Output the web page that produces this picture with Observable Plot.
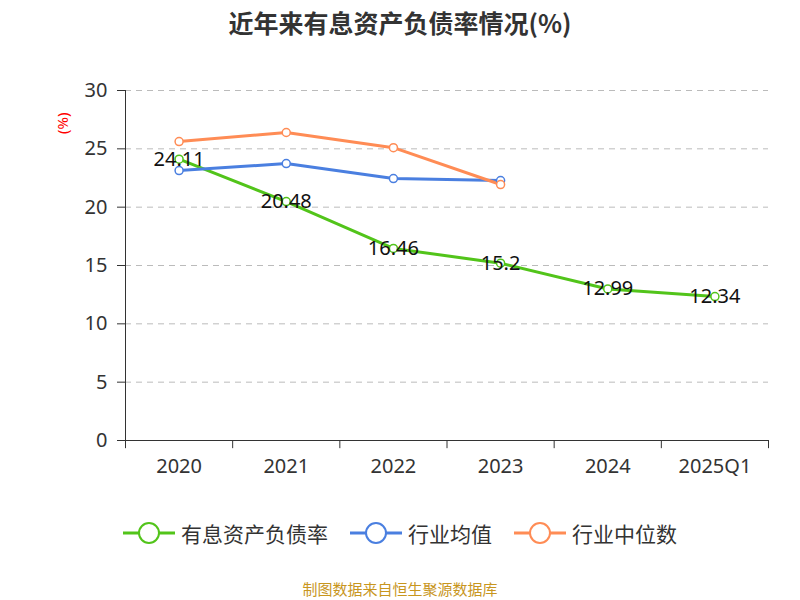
<!DOCTYPE html>
<html><head><meta charset="utf-8">
<script src="https://cdn.jsdelivr.net/npm/d3@7"></script>
<script src="https://cdn.jsdelivr.net/npm/@observablehq/plot@0.6"></script>
<style>
body{margin:0;width:800px;height:600px;position:relative;font-family:"Noto Sans CJK SC","Noto Sans",sans-serif;background:#fff}
#title{position:absolute;top:4px;left:0;width:800px;text-align:center;font-size:25px;font-weight:bold;color:#333}
#chart{position:absolute;top:0;left:0}
#legend{position:absolute;top:518px;left:0;width:800px;display:flex;justify-content:center;gap:22px;font-size:21px;color:#333}
.li{display:flex;align-items:center;gap:6px}
#cap{position:absolute;top:578px;left:0;width:800px;text-align:center;font-size:15px;color:#c8961e}
</style></head><body>
<div id="chart"></div>
<div id="title">近年来有息资产负债率情况(%)</div>
<div id="legend"></div>
<div id="cap">制图数据来自恒生聚源数据库</div>
<script>
const categories = ["2020","2021","2022","2023","2024","2025Q1"];
const debtRatio = [24.11,20.48,16.46,15.2,12.99,12.34];
const industryAvg = [23.14,23.74,22.45,22.28];
const industryMedian = [25.62,26.4,25.1,21.94];
const yTicks = [0,5,10,15,20,25,30];
const seriesNames = ["有息资产负债率","行业均值","行业中位数"];
const colors = ["#52c41a","#4a7fe0","#ff8c55"];

const rows = [];
debtRatio.forEach((v,i)=>rows.push({s:seriesNames[0],i,v}));
industryAvg.forEach((v,i)=>rows.push({s:seriesNames[1],i,v}));
industryMedian.forEach((v,i)=>rows.push({s:seriesNames[2],i,v}));
const main = rows.filter(r=>r.s===seriesNames[0]);
const bounds = d3.range(categories.length+1).map(k=>k-0.5);

const plot = Plot.plot({
  width:800,height:600,
  marginTop:90,marginBottom:160,marginLeft:125,marginRight:32,
  x:{type:"linear",domain:[-0.5,categories.length-0.5],axis:null},
  y:{type:"linear",domain:[0,30],axis:null},
  color:{domain:seriesNames,range:colors},
  style:{fontFamily:"Noto Sans, sans-serif"},
  marks:[
    Plot.ruleY(yTicks.filter(t=>t>0),{stroke:"#bbb",strokeDasharray:"6,5"}),
    Plot.ruleX([-0.5],{y1:0,y2:30,stroke:"#333"}),
    Plot.ruleY(yTicks,{x1:-0.5,x2:-0.5,dx:0,stroke:"#333",insetLeft:-8}),
    Plot.text(yTicks,{x:-0.5,y:d=>d,text:d=>String(d),dx:-18,textAnchor:"end",fontSize:20,fill:"#333"}),
    Plot.ruleY([0],{stroke:"#333"}),
    Plot.ruleX(bounds,{y1:0,y2:-0.7,stroke:"#333"}),
    Plot.text(categories,{x:(d,i)=>i,y:0,text:d=>d,dy:26,fontSize:20,fill:"#333"}),
    Plot.line(rows,{x:"i",y:"v",z:"s",stroke:"s",strokeWidth:3}),
    Plot.dot(rows,{x:"i",y:"v",stroke:"s",fill:"white",r:4,strokeWidth:1.5}),
    Plot.text(main,{x:"i",y:"v",text:d=>String(d.v),fontSize:20,fill:"#111"}),
    Plot.text(["(%)"],{x:-0.5,y:27.2,dx:-62,text:d=>d,rotate:-90,fill:"red",fontSize:15})
  ]
});
document.getElementById("chart").appendChild(plot);

const lg = document.getElementById("legend");
seriesNames.forEach((n,k)=>{
  const d=document.createElement("div");d.className="li";
  d.innerHTML=`<svg width="52" height="24"><line x1="0" y1="12" x2="52" y2="12" stroke="${colors[k]}" stroke-width="3"/><circle cx="26" cy="12" r="10" fill="white" stroke="${colors[k]}" stroke-width="2"/></svg><span>${n}</span>`;
  lg.appendChild(d);
});
</script>
</body></html>
